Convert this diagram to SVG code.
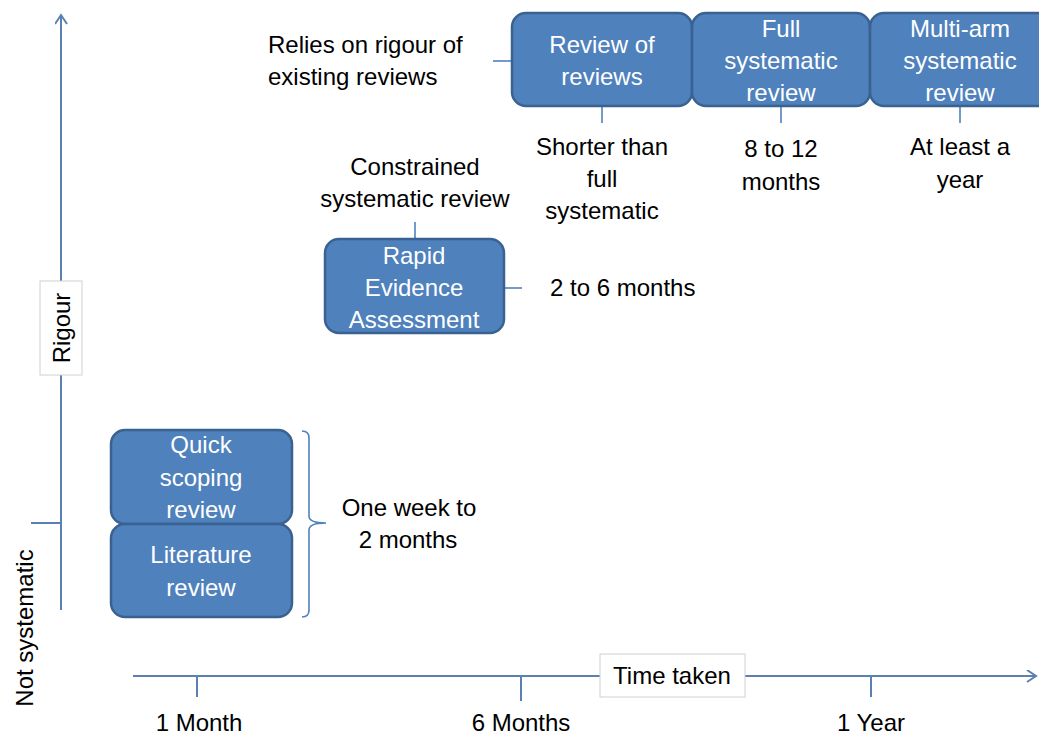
<svg xmlns="http://www.w3.org/2000/svg" width="1039" height="734" viewBox="0 0 1039 734">
<style>
text{font-family:"Liberation Sans",Arial,sans-serif;font-size:24px;fill:#000}
.bx{fill:#4F81BD;stroke:#3A6290;stroke-width:2.5}
.bt{fill:#fff;text-anchor:middle}
.c{text-anchor:middle}
.ln{stroke:#4F81BD;stroke-width:1.6;fill:none}
.ax{stroke:#5B80B2;stroke-width:2;fill:none}
.lb{fill:#fff;stroke:#D0D0D0;stroke-width:1}
</style>
<defs>
<marker id="arr" markerWidth="14" markerHeight="14" refX="10" refY="6" orient="auto" markerUnits="userSpaceOnUse"><path d="M1,0 L10,6 L1,12" fill="none" stroke="#5B80B2" stroke-width="2"/></marker>
</defs>
<g id="axes">
<line class="ax" x1="61" y1="610" x2="61" y2="15" marker-end="url(#arr)"/>
<line class="ax" x1="31" y1="523" x2="61" y2="523"/>
<line class="ax" x1="133" y1="676" x2="1036" y2="676" marker-end="url(#arr)"/>
<line class="ax" x1="197" y1="676" x2="197" y2="697"/>
<line class="ax" x1="521" y1="676" x2="521" y2="701"/>
<line class="ax" x1="871" y1="676" x2="871" y2="697"/>
<rect class="lb" x="40" y="281" width="42" height="94"/>
<text class="c" transform="translate(70,328) rotate(-90)">Rigour</text>
<text class="c" transform="translate(33,628) rotate(-90)">Not systematic</text>
<rect class="lb" x="600" y="654" width="145" height="43"/>
<text class="c" x="672" y="684">Time taken</text>
<text class="c" x="199" y="731">1 Month</text>
<text class="c" x="521" y="731">6 Months</text>
<text class="c" x="871" y="731">1 Year</text>
</g>
<g id="connectors">
<line class="ln" x1="493" y1="61" x2="512" y2="61"/>
<line class="ln" x1="602" y1="106" x2="602" y2="123"/>
<line class="ln" x1="781" y1="106" x2="781" y2="123"/>
<line class="ln" x1="960" y1="106" x2="960" y2="123"/>
<line class="ln" x1="415" y1="222" x2="415" y2="239"/>
<line class="ln" x1="504" y1="288" x2="522" y2="288"/>
<path class="ln" d="M302,431 Q309,431 309,438 L309,516 Q309,523 326,523 Q309,523 309,530 L309,610 Q309,617 302,617"/>
</g>
<g id="review-of-reviews">
<rect class="bx" x="512" y="13" width="180" height="93" rx="14"/>
<text class="bt" x="602" y="53">Review of</text>
<text class="bt" x="602" y="85">reviews</text>
</g>
<g id="full-systematic">
<rect class="bx" x="692" y="13" width="178" height="93" rx="14"/>
<text class="bt" x="781" y="37">Full</text>
<text class="bt" x="781" y="69">systematic</text>
<text class="bt" x="781" y="101">review</text>
</g>
<g id="multi-arm">
<rect class="bx" x="870" y="13" width="185" height="93" rx="14"/>
<text class="bt" x="960" y="37">Multi-arm</text>
<text class="bt" x="960" y="69">systematic</text>
<text class="bt" x="960" y="101">review</text>
</g>
<g id="rea">
<rect class="bx" x="325" y="239" width="179" height="94" rx="14"/>
<text class="bt" x="414" y="264">Rapid</text>
<text class="bt" x="414" y="296">Evidence</text>
<text class="bt" x="414" y="328">Assessment</text>
</g>
<g id="quick-scoping">
<rect class="bx" x="111" y="430" width="181" height="94" rx="14"/>
<text class="bt" x="201" y="453">Quick</text>
<text class="bt" x="201" y="486">scoping</text>
<text class="bt" x="201" y="518">review</text>
</g>
<g id="literature">
<rect class="bx" x="111" y="524" width="181" height="93" rx="14"/>
<text class="bt" x="201" y="563">Literature</text>
<text class="bt" x="201" y="596">review</text>
</g>
<g id="labels">
<text x="268" y="53">Relies on rigour of</text>
<text x="268" y="85">existing reviews</text>
<text class="c" x="602" y="155">Shorter than</text>
<text class="c" x="602" y="187">full</text>
<text class="c" x="602" y="219">systematic</text>
<text class="c" x="781" y="157">8 to 12</text>
<text class="c" x="781" y="190">months</text>
<text class="c" x="960" y="155">At least a</text>
<text class="c" x="960" y="188">year</text>
<text class="c" x="415" y="175">Constrained</text>
<text class="c" x="415" y="207">systematic review</text>
<text x="550" y="296">2 to 6 months</text>
<text class="c" x="409" y="516">One week to</text>
<text class="c" x="408" y="548">2 months</text>
</g>
</svg>
